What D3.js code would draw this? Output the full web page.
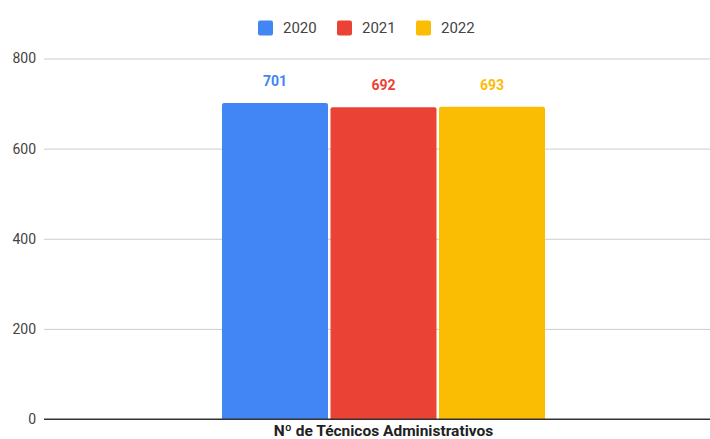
<!DOCTYPE html>
<html>
<head>
<meta charset="utf-8">
<script src="https://cdn.jsdelivr.net/npm/d3@7/dist/d3.min.js"></script>
<style>
  html, body { margin: 0; padding: 0; background: #fff; }
  svg { display: block; font-family: Roboto, Arial, sans-serif; }
</style>
</head>
<body>
<svg id="chart" width="710" height="439"></svg>
<script>
// Data
const categories = ["Nº de Técnicos Administrativos"];
const seriesNames = ["2020", "2021", "2022"];
const seriesValues = [[701], [692], [693]];
const seriesColors = ["#4285f4", "#ea4335", "#fbbc04"];
const yTicks = [0, 200, 400, 600, 800];

const svg = d3.select("#chart");
const W = 710, H = 439;
const m = { left: 44, right: -13, top: 58.5, bottom: 20 };
const plotRight = W - m.right;
const baseY = H - m.bottom;

const y = d3.scaleLinear().domain([0, 800]).range([baseY, m.top]);
const x0 = d3.scaleBand().domain(categories).range([m.left, plotRight])
  .paddingInner(0).paddingOuter(0.551);
const x1 = d3.scaleBand().domain(seriesNames).range([0, x0.bandwidth()])
  .paddingInner(0.023).paddingOuter(0);

// Gridlines and y labels
const yAxis = d3.axisLeft(y).tickValues(yTicks).tickSize(-(plotRight - m.left)).tickPadding(8);
const gy = svg.append("g").attr("transform", `translate(${m.left},0)`).call(yAxis);
gy.select(".domain").remove();
gy.selectAll(".tick line").attr("stroke", "#cccccc").attr("stroke-width", 1);
gy.selectAll(".tick text").attr("fill", "#444").attr("font-size", 14)
  .attr("font-family", "Roboto, Arial, sans-serif");
gy.selectAll(".tick").filter(d => d === 0).select("line").attr("stroke", "#333");

// Bars with slightly rounded top corners
function barPath(x, yTop, w, yBot, r) {
  return `M${x},${yBot}V${yTop + r}Q${x},${yTop} ${x + r},${yTop}H${x + w - r}Q${x + w},${yTop} ${x + w},${yTop + r}V${yBot}Z`;
}

categories.forEach((cat, ci) => {
  const g = svg.append("g").attr("transform", `translate(${x0(cat)},0)`);
  seriesNames.forEach((s, si) => {
    const v = seriesValues[si][ci];
    const bx = x1(s), bw = x1.bandwidth();
    g.append("path")
      .attr("d", barPath(bx, y(v), bw, y(0), 2))
      .attr("fill", seriesColors[si]);
    g.append("text")
      .attr("x", bx + bw / 2)
      .attr("y", y(v) - 17)
      .attr("text-anchor", "middle")
      .attr("font-size", 14)
      .attr("font-weight", "bold")
      .attr("fill", seriesColors[si])
      .text(v);
  });
});

// Baseline on top of bars
svg.append("line")
  .attr("x1", m.left).attr("x2", plotRight)
  .attr("y1", y(0)).attr("y2", y(0))
  .attr("stroke", "#333").attr("stroke-width", 1);

// Category label
svg.selectAll(".cat").data(categories).join("text")
  .attr("class", "cat")
  .attr("x", d => x0(d) + x0.bandwidth() / 2)
  .attr("y", 436)
  .attr("text-anchor", "middle")
  .attr("font-size", 15.5)
  .attr("font-weight", "bold")
  .attr("fill", "#222")
  .text(d => d);

// Legend
const legendX = [258, 337, 416];
const lg = svg.append("g");
seriesNames.forEach((s, i) => {
  lg.append("rect").attr("x", legendX[i]).attr("y", 20.5).attr("width", 15).attr("height", 15)
    .attr("rx", 2).attr("fill", seriesColors[i]);
  lg.append("text").attr("x", legendX[i] + 25).attr("y", 33)
    .attr("font-size", 15).attr("fill", "#444").text(s);
});
</script>
</body>
</html>
